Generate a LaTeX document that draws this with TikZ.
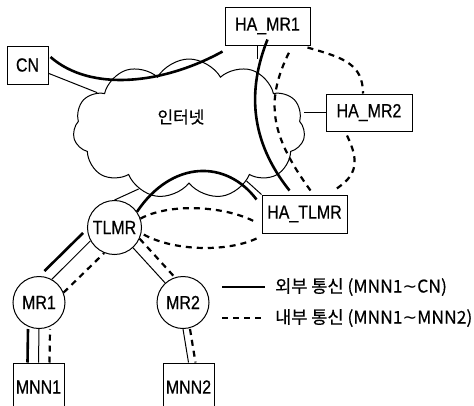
\documentclass[tikz,border=0pt]{standalone}
\usepackage{fontspec}
\usepackage{tikz}
\usetikzlibrary{shapes.geometric, shapes.symbols, calc}
\newfontfamily\labelfont[FakeStretch=0.84, FakeBold=0.6]{Liberation Sans}
\newfontfamily\krfont[FakeBold=0.4]{Noto Sans CJK KR}
\newfontfamily\symfont{DejaVu Sans}
\newcommand{\wavetilde}{{\symfont ∼}}

\begin{document}
\begin{tikzpicture}[
    x=1pt, y=-1pt,
    box/.style={draw, line width=1pt, inner sep=0pt, font=\labelfont\fontsize{19pt}{21pt}\selectfont},
    router/.style={draw, circle, line width=1pt, inner sep=0pt, minimum size=52pt, font=\labelfont\fontsize{19pt}{21pt}\selectfont},
    link/.style={line width=1pt},
    extpath/.style={line width=2.6pt},
    intpath/.style={line width=2.2pt, dash pattern=on 6pt off 5pt},
    legendtext/.style={inner sep=0pt, anchor=west, font=\krfont\fontsize{17.5pt}{19pt}\selectfont}
]
    % Page
    \useasboundingbox (0,0) rectangle (474,405);

    % Internet
    \node[cloud, draw, line width=1pt, cloud puffs=11, cloud puff arc=120, minimum width=232pt, minimum height=140pt, inner sep=0pt] (internet) at (189,129) {};
    \node[font=\krfont\fontsize{17pt}{19pt}\selectfont] (netlabel) at (181,117) {인터넷};

    % Hosts and home agents
    \node[box, minimum width=41pt, minimum height=38pt] (cn) at (27.5,65) {CN};
    \node[box, minimum width=85pt, minimum height=38pt] (hamr1) at (267.5,26) {HA\_MR1};
    \node[box, minimum width=86pt, minimum height=37pt] (hamr2) at (369,112.5) {HA\_MR2};
    \node[box, minimum width=85pt, minimum height=38pt] (hatlmr) at (304.5,214) {HA\_TLMR};

    % Mobile routers
    \node[router, minimum size=54pt] (tlmr) at (114.5,227.5) {TLMR};
    \node[router] (mr1) at (39,302.5) {MR1};
    \node[router] (mr2) at (183,302.5) {MR2};

    % Mobile nodes
    \node[box, minimum width=51pt, minimum height=48pt] (mnn1) at (38.5,387) {MNN1};
    \node[box, minimum width=51pt, minimum height=48pt] (mnn2) at (188.5,387) {MNN2};

    % Physical links
    \draw[link] (cn) -- (internet);
    \draw[link] ([xshift=-10pt]hamr1.south) -- ([xshift=-10pt]hamr1.south |- internet.north);
    \draw[link] (hamr2.west) -- (hamr2.west -| internet.east);
    \draw[link] (hatlmr.north west) -- (internet);
    \draw[link] (tlmr.north) -- (internet.230);
    \draw[link] (mr1.61) -- (tlmr.209);
    \draw[link] (tlmr) -- (mr2);
    \draw[link] (mr1.south) -- (mnn1.north);
    \draw[link] (mr2.south) -- (mnn2.north);

    % External path (MNN1 - CN)
    \draw[extpath] ([xshift=-11pt]mnn1.north) -- ([xshift=-11pt]mr1.south);
    \draw[extpath] ([shift={(5,-5)}]mr1.89) -- ([shift={(-4,4)}]tlmr.183);
    \draw[extpath] (tlmr.35) .. controls +(35,-52) and +(-30,-40) .. ([shift={(-5,5)}]hatlmr.north west);
    \draw[extpath] ([shift={(-15,-4)}]hatlmr.north) .. controls +(-40,-50) and +(-20,50) .. ([yshift=6pt]hamr1.south);
    \draw[extpath] ([shift={(-2,6)}]hamr1.south west) .. controls +(-60,33) and +(40,35) .. ([shift={(2,-8)}]cn.east);

    % Internal path (MNN1 - MNN2)
    \draw[intpath] ([xshift=11pt]mnn1.north) -- ([xshift=11pt]mr1.south);
    \draw[intpath] (mr1.22) -- (tlmr.248);
    \draw[intpath] (tlmr.19) .. controls +(30,-16) and +(-30,-16) .. ([shift={(-6,8)}]hatlmr.west);
    \draw[intpath] ([shift={(6,-4)}]hatlmr.north) .. controls +(-40,-55) and +(-25,50) .. ([shift={(22,6)}]hamr1.south);
    \draw[intpath] ([shift={(-3,2)}]hamr1.south east) .. controls +(35,10) and +(0,-30) .. ([xshift=-6pt]hamr2.north);
    \draw[intpath] ([shift={(-22,4)}]hamr2.south) .. controls +(12,25) and +(25,-15) .. ([shift={(-14,-4)}]hatlmr.north east);
    \draw[intpath] ([shift={(-5,5)}]hatlmr.south west) .. controls +(-30,14) and +(30,18) .. (tlmr.348);
    \draw[intpath] (tlmr.336) -- (mr2.108);
    \draw[intpath] ([xshift=7pt]mr2.south) -- ([xshift=7pt]mnn2.north);

    % Legend
    \node[legendtext] (legext) at (275,287) {외부 통신 (MNN1\wavetilde CN)};
    \node[legendtext] (legint) at (275,318) {내부 통신 (MNN1\wavetilde MNN2)};
    \coordinate (legextstart) at (222,287);
    \coordinate (legintstart) at (222,318);
    \draw[extpath] (legextstart) -- ([xshift=-10pt]legext.west);
    \draw[intpath] (legintstart) -- ([xshift=-10pt]legint.west);

\end{tikzpicture}
\end{document}
